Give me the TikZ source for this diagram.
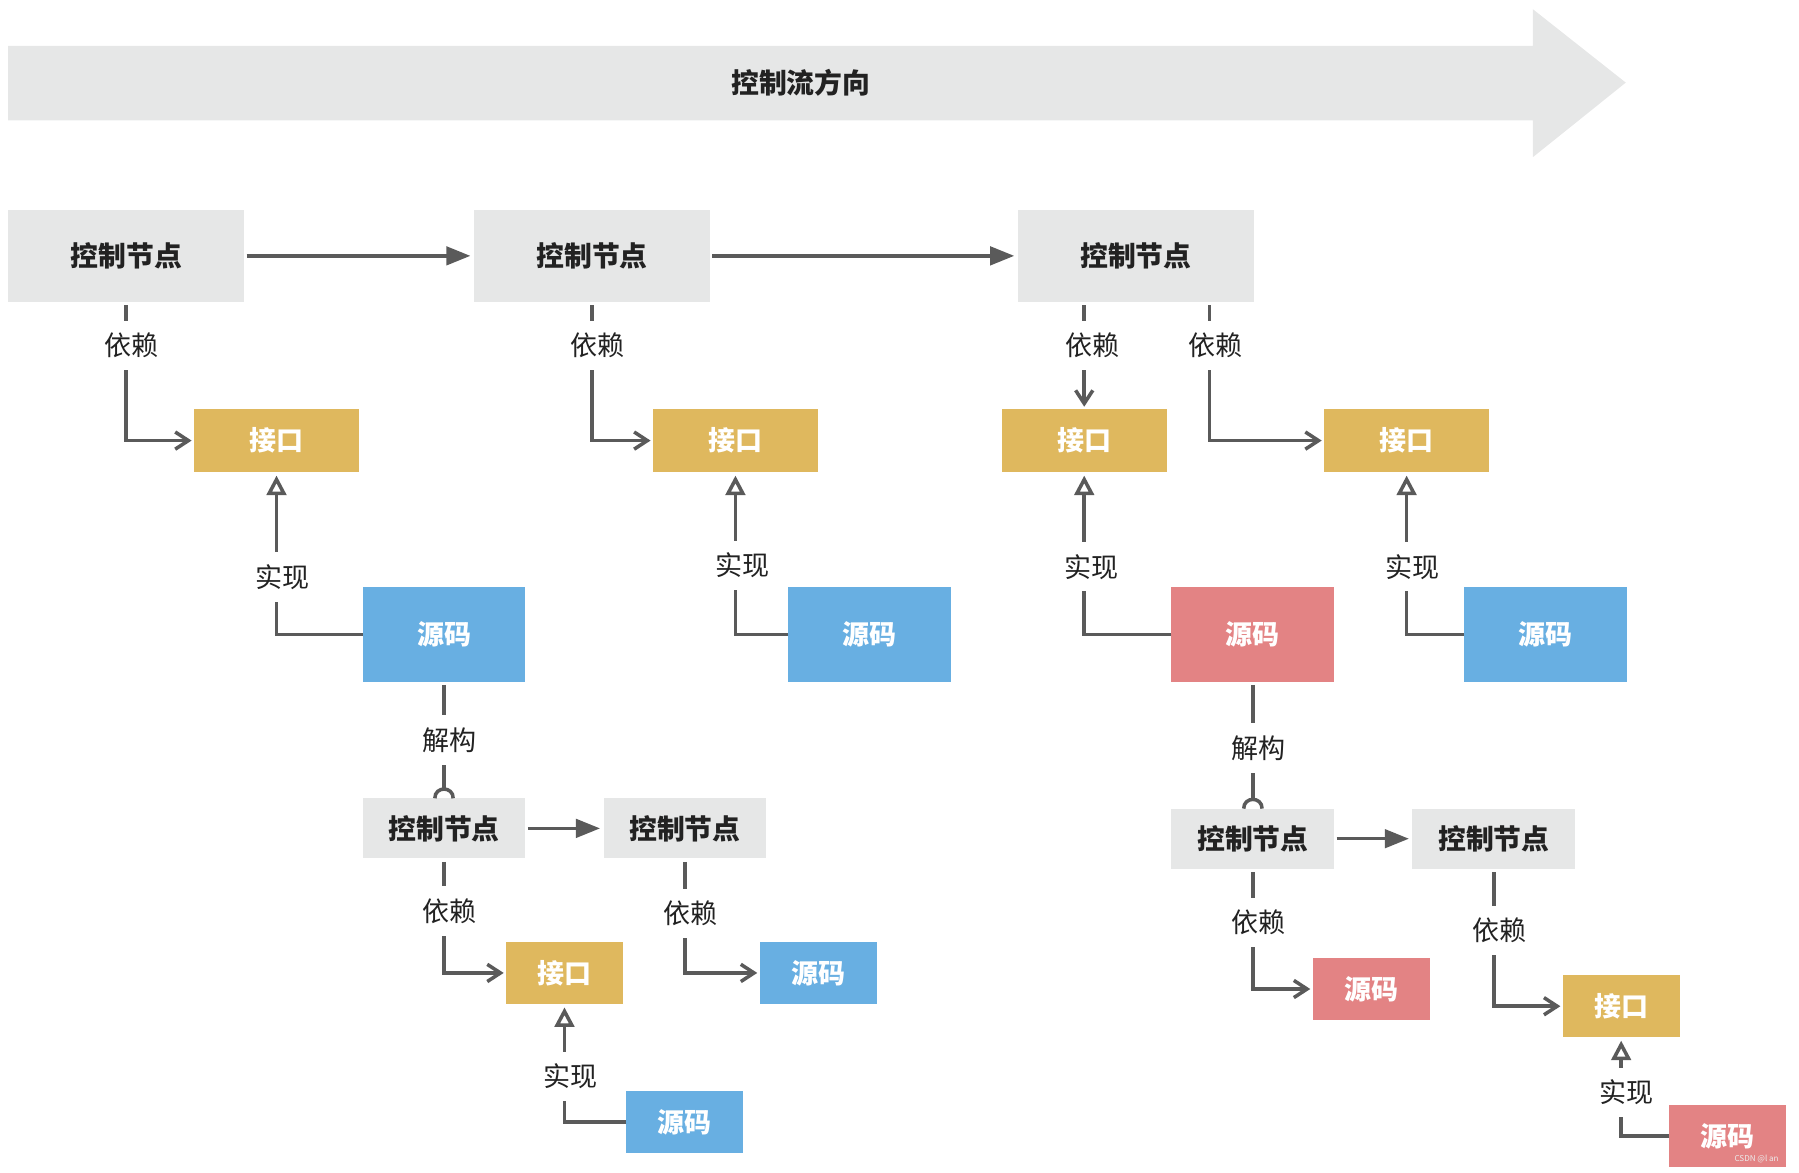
\documentclass[tikz,border=0pt]{standalone}
\usepackage{fontspec}
\setmainfont{Noto Sans CJK SC}
\usetikzlibrary{arrows.meta}
\definecolor{boxgray}{RGB}{230,231,231}
\definecolor{gold}{RGB}{223,184,94}
\definecolor{skyblue}{RGB}{104,175,226}
\definecolor{rosered}{RGB}{227,131,132}
\definecolor{linegray}{RGB}{90,90,90}
\definecolor{txt}{RGB}{34,34,34}
\begin{document}
\begin{tikzpicture}[x=0.02cm,y=-0.02cm,
  every node/.style={inner sep=0pt,outer sep=0pt},
  ctrlbig/.style={fill=boxgray,minimum width=4.12cm,minimum height=1.6cm,font=\fontsize{13.8pt}{14pt}\selectfont\bfseries,text=txt},
  ctrlsm/.style={fill=boxgray,minimum width=2.84cm,minimum height=1.05cm,font=\fontsize{13.8pt}{14pt}\selectfont\bfseries,text=txt},
  ifbig/.style={fill=gold,minimum width=2.88cm,minimum height=1.1cm,font=\fontsize{13.4pt}{14pt}\selectfont\bfseries,text=white},
  ifsm/.style={fill=gold,minimum width=2.04cm,minimum height=1.08cm,font=\fontsize{13.4pt}{14pt}\selectfont\bfseries,text=white},
  srcbig/.style={fill=#1,minimum width=2.84cm,minimum height=1.64cm,font=\fontsize{13.4pt}{14pt}\selectfont\bfseries,text=white},
  srcsm/.style={fill=#1,minimum width=2.04cm,minimum height=1.08cm,font=\fontsize{13.4pt}{14pt}\selectfont\bfseries,text=white},
  lbl/.style={fill=white,minimum height=0.86cm,inner xsep=2pt,font=\fontsize{13.4pt}{14pt}\selectfont,text=txt},
  conn/.style={draw=linegray,line width=1.75pt},
  dep/.style={conn,-{Straight Barb[length=0.23cm,width=0.3cm,line width=1.75pt]},shorten <=0.06cm,shorten >=0.04cm},
  flow/.style={conn,-{Triangle[length=0.42cm,width=0.32cm]},shorten <=0.04cm,shorten >=0.06cm},
  impl/.style={conn,-{Triangle[open,length=0.34cm,width=0.34cm,line width=1.75pt,fill=white]},shorten >=0.06cm},
  dcmp/.style={conn,shorten <=0.06cm,shorten >=0.16cm}
]
\useasboundingbox (0,0) rectangle (1568,1022);

% big control-flow arrow
\fill[boxgray] (7,40) -- (1336,40) -- (1336,8) -- (1417,72) -- (1336,137) -- (1336,105) -- (7,105) -- cycle;
\node[font=\fontsize{13.8pt}{14pt}\selectfont\bfseries,text=txt] (flowtxt) at (698,72) {控制流方向};

% top row control nodes
\node[ctrlbig] (C1) at (110,223) {控制节点};
\node[ctrlbig] (C2) at (516,223) {控制节点};
\node[ctrlbig] (C3) at (990,223) {控制节点};

% interfaces
\node[ifbig] (I1) at (241,384) {接口};
\node[ifbig] (I2) at (641,384) {接口};
\node[ifbig] (I3) at (945,384) {接口};
\node[ifbig] (I4) at (1226,384) {接口};

% sources
\node[srcbig=skyblue] (S1) at (387,553) {源码};
\node[srcbig=skyblue] (S2) at (758,553) {源码};
\node[srcbig=rosered] (S3) at (1092,553) {源码};
\node[srcbig=skyblue] (S4) at (1347,553) {源码};

% lower left cluster
\node[ctrlsm] (C4) at (387,722) {控制节点};
\node[ctrlsm] (C5) at (597,722) {控制节点};
\node[ifsm] (I5) at (492,848) {接口};
\node[srcsm=skyblue] (S5) at (713,848) {源码};
\node[srcsm=skyblue] (S6) at (597,978) {源码};

% lower right cluster
\node[ctrlsm] (C6) at (1092,731) {控制节点};
\node[ctrlsm] (C7) at (1302,731) {控制节点};
\node[srcsm=rosered] (S7) at (1195,862) {源码};
\node[ifsm] (I6) at (1413,877) {接口};
\node[srcsm=rosered] (S8) at (1506,990) {源码};

% flow arrows
\draw[flow] (C1.east) -- (C2.west);
\draw[flow] (C2.east) -- (C3.west);
\draw[flow] (C4.east) -- (C5.west);
\draw[flow] (C6.east) -- (C7.west);

% dependencies
\draw[dep] (C1.south) |- (I1.west);
\draw[dep] (C2.south) |- (I2.west);
\draw[dep] (C3.south -| I3.north) -- (I3.north);
\draw[dep] ([xshift=1.28cm]C3.south) |- (I4.west);
\draw[dep] (C4.south) |- (I5.west);
\draw[dep] (C5.south) |- (S5.west);
\draw[dep] (C6.south) |- (S7.west);
\draw[dep] (C7.south) |- (I6.west);

% implementations
\draw[impl] (S1.west) -| (I1.south);
\draw[impl] (S2.west) -| (I2.south);
\draw[impl] (S3.west) -| (I3.south);
\draw[impl] (S4.west) -| (I4.south);
\draw[impl] (S6.west) -| (I5.south);
\draw[impl] (S8.west) -| (I6.south);

% decompositions
\draw[dcmp] (S1.south) -- (C4.north);
\draw[conn] ([shift={(-8,0)}]C4.north) .. controls ([shift={(-8,-10.7)}]C4.north) and ([shift={(8,-10.7)}]C4.north) .. ([shift={(8,0)}]C4.north);
\draw[dcmp] (S3.south) -- (C6.north);
\draw[conn] ([shift={(-8,0)}]C6.north) .. controls ([shift={(-8,-10.7)}]C6.north) and ([shift={(8,-10.7)}]C6.north) .. ([shift={(8,0)}]C6.north);

% labels
\node[lbl] (L1) at (115,301) {依赖};
\node[lbl] (L2) at (521,301) {依赖};
\node[lbl] (L3) at (952,301) {依赖};
\node[lbl] (L4) at (1059,301) {依赖};
\node[lbl] (L5) at (246,503) {实现};
\node[lbl] (L6) at (647,493) {实现};
\node[lbl] (L7) at (951,494) {实现};
\node[lbl] (L8) at (1231,494) {实现};
\node[lbl] (L9) at (392,645) {解构};
\node[lbl] (L10) at (1097,652) {解构};
\node[lbl] (L11) at (392,794) {依赖};
\node[lbl] (L12) at (602,796) {依赖};
\node[lbl] (L13) at (1097,804) {依赖};
\node[lbl] (L14) at (1307,811) {依赖};
\node[lbl] (L15) at (497,938) {实现};
\node[lbl] (L16) at (1418,952) {实现};

% watermark
\node[font=\fontsize{4pt}{5pt}\selectfont,text=white!85!gray] (wm) at (1531,1010) {CSDN @l an};
\end{tikzpicture}
\end{document}
